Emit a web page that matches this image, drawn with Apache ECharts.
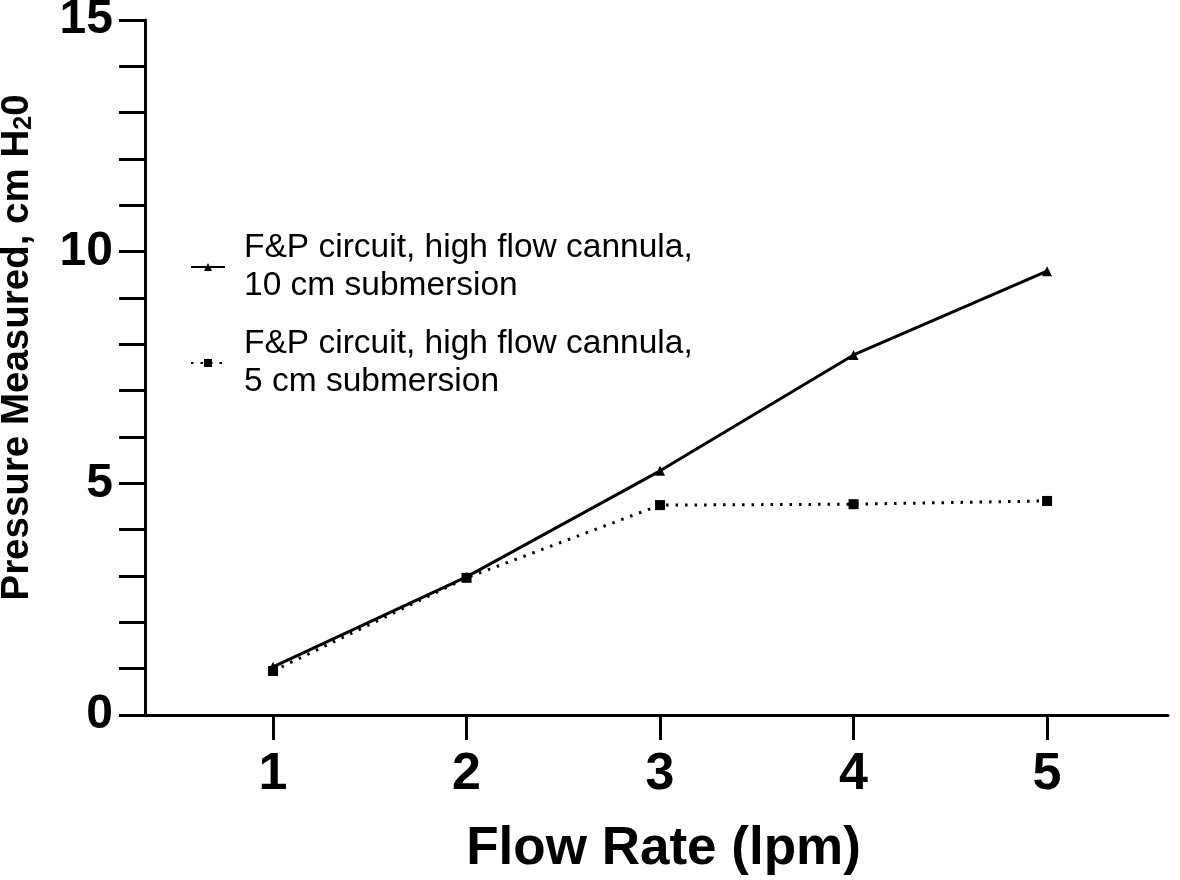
<!DOCTYPE html>
<html>
<head>
<meta charset="utf-8">
<script src="https://cdn.jsdelivr.net/npm/echarts@6/dist/echarts.min.js"></script>
<style>
html,body{margin:0;padding:0;background:#fff;}
#main{width:1180px;height:880px;}
</style>
</head>
<body>
<div id="main"></div>
<script>
const flowRates = [1, 2, 3, 4, 5];
const seriesNames = [
  'F&P circuit, high flow cannula,\n10 cm submersion',
  'F&P circuit, high flow cannula,\n5 cm submersion'
];
const pressure10cm = [1.04, 2.98, 5.27, 7.77, 9.58];
const pressure5cm = [0.95, 2.96, 4.53, 4.55, 4.62];
const yMajorLabels = [0, 5, 10, 15];

const FONT = '"Liberation Sans", Arial, Helvetica, sans-serif';
const chart = echarts.init(document.getElementById('main'));
chart.setOption({
  backgroundColor: '#ffffff',
  animation: false,
  grid: { left: 131, right: 12, top: 20, bottom: 165, containLabel: false, outerBoundsMode: 'none' },
  legend: {
    orient: 'vertical',
    left: 190,
    top: 229,
    padding: 0,
    itemWidth: 34,
    itemHeight: 10,
    itemGap: 20,
    data: seriesNames,
    textStyle: { fontFamily: FONT, fontSize: 33.5, lineHeight: 38, color: '#000', padding: [0, 0, 0, 14] }
  },
  xAxis: {
    type: 'value',
    min: 0.266,
    max: 5.625,
    name: 'Flow Rate (lpm)',
    nameLocation: 'middle',
    nameGap: 108,
    nameTextStyle: { fontFamily: FONT, fontSize: 53, fontWeight: 'bold', color: '#000', padding: [0, 0, 0, 28] },
    axisLine: { show: true, onZero: false, lineStyle: { color: '#000', width: 3 } },
    axisTick: { show: true, length: 25, lineStyle: { color: '#000', width: 3 }, customValues: flowRates },
    axisLabel: { fontFamily: FONT, fontSize: 52, fontWeight: 'bold', color: '#000', margin: 34, customValues: flowRates },
    splitLine: { show: false }
  },
  yAxis: {
    type: 'value',
    min: 0,
    max: 15,
    interval: 1,
    offset: -14,
    name: 'Pressure Measured, cm H{sub|2}0',
    nameLocation: 'middle',
    nameGap: 108,
    nameRotate: 90,
    nameTextStyle: {
      fontFamily: FONT, fontSize: 38.5, fontWeight: 'bold', color: '#000',
      padding: [0, 0, 0, 40],
      rich: { sub: { fontFamily: FONT, fontSize: 25, fontWeight: 'bold', color: '#000', verticalAlign: 'bottom', padding: [15, 0, 0, 0] } }
    },
    axisLine: { show: true, lineStyle: { color: '#000', width: 3 } },
    axisTick: { show: true, length: 26, lineStyle: { color: '#000', width: 3 } },
    axisLabel: {
      fontFamily: FONT, fontSize: 48, fontWeight: 'bold', color: '#000', margin: 32,
      formatter: v => yMajorLabels.indexOf(v) >= 0 ? String(v) : ''
    },
    splitLine: { show: false }
  },
  series: [
    {
      name: seriesNames[0],
      type: 'line',
      data: flowRates.map((x, i) => [x, pressure10cm[i]]),
      symbol: 'triangle',
      symbolSize: 10,
      lineStyle: { color: '#000', width: 3 },
      itemStyle: { color: '#000' }
    },
    {
      name: seriesNames[1],
      type: 'line',
      data: flowRates.map((x, i) => [x, pressure5cm[i]]),
      symbol: 'rect',
      symbolSize: 10,
      lineStyle: { color: '#000', width: 3, type: [2.5, 7], cap: 'butt' },
      itemStyle: { color: '#000' }
    }
  ]
});
</script>
</body>
</html>
